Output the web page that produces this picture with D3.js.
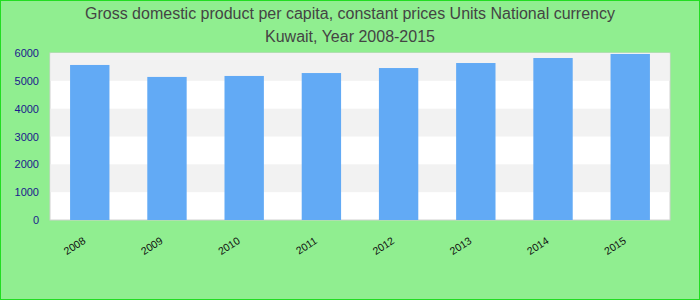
<!DOCTYPE html>
<html>
<head>
<meta charset="utf-8">
<script src="https://cdn.jsdelivr.net/npm/d3@7"></script>
<style>
  body { margin: 0; }
</style>
</head>
<body>
<script>
var years = ['2008', '2009', '2010', '2011', '2012', '2013', '2014', '2015'];
var gdp = [5570, 5140, 5175, 5280, 5460, 5640, 5820, 5965];
var yTicks = [0, 1000, 2000, 3000, 4000, 5000, 6000];
var titleLines = ['Gross domestic product per capita, constant prices Units National currency',
                  'Kuwait, Year 2008-2015'];

var width = 700, height = 300;
var plotLeft = 50, plotRight = 670, plotTop = 53, plotBottom = 220;

var svg = d3.select('body')
  .append('svg')
  .attr('width', width)
  .attr('height', height)
  .style('font-family', 'Arial, "Liberation Sans", sans-serif');

svg.append('rect')
  .attr('x', 0.5).attr('y', 0.5)
  .attr('width', width - 1).attr('height', height - 1)
  .attr('fill', '#90ee90')
  .attr('stroke', '#22dd22');

var x = d3.scaleBand()
  .domain(years)
  .range([plotLeft, plotRight])
  .paddingInner(0.49)
  .paddingOuter(0.26);

var y = d3.scaleLinear()
  .domain([0, 6000])
  .range([plotBottom, plotTop]);

// plot background with alternating bands
svg.append('rect')
  .attr('x', plotLeft).attr('y', plotTop)
  .attr('width', plotRight - plotLeft).attr('height', plotBottom - plotTop)
  .attr('fill', 'white')
  .attr('stroke', '#d0d0d0');

svg.selectAll('rect.band')
  .data(yTicks.slice(0, -1).filter(function(d, i) { return i % 2 === 1; }))
  .enter()
  .append('rect')
  .attr('class', 'band')
  .attr('x', plotLeft + 0.5)
  .attr('width', plotRight - plotLeft - 1)
  .attr('y', function(d) { return y(d + 1000); })
  .attr('height', function(d) { return y(d) - y(d + 1000); })
  .attr('fill', '#f2f2f2');

svg.selectAll('rect.bar')
  .data(gdp)
  .enter()
  .append('rect')
  .attr('class', 'bar')
  .attr('x', function(d, i) { return x(years[i]); })
  .attr('width', x.bandwidth())
  .attr('y', function(d) { return y(d); })
  .attr('height', function(d) { return y(0) - y(d); })
  .attr('fill', '#62aaf5');

// y axis labels
var yAxis = svg.append('g')
  .attr('transform', 'translate(' + plotLeft + ',0)')
  .call(d3.axisLeft(y).tickValues(yTicks).tickFormat(d3.format('d')).tickSize(0).tickPadding(11));
yAxis.select('.domain').remove();
yAxis.selectAll('text')
  .attr('fill', '#1a1a8c')
  .style('font-size', '11px');

// x axis labels
var xAxis = svg.append('g')
  .attr('transform', 'translate(0,' + plotBottom + ')')
  .call(d3.axisBottom(x).tickSize(0));
xAxis.select('.domain').remove();
xAxis.selectAll('text')
  .attr('fill', '#111')
  .style('font-size', '10.5px')
  .attr('text-anchor', 'end')
  .attr('dy', 0)
  .attr('transform', 'translate(-5,20) rotate(-33)');

svg.selectAll('text.title')
  .data(titleLines)
  .enter()
  .append('text')
  .attr('class', 'title')
  .attr('x', width / 2)
  .attr('y', function(d, i) { return 19 + i * 23; })
  .attr('text-anchor', 'middle')
  .attr('fill', '#444')
  .style('font-size', '16px')
  .text(function(d) { return d; });
</script>
</body>
</html>
